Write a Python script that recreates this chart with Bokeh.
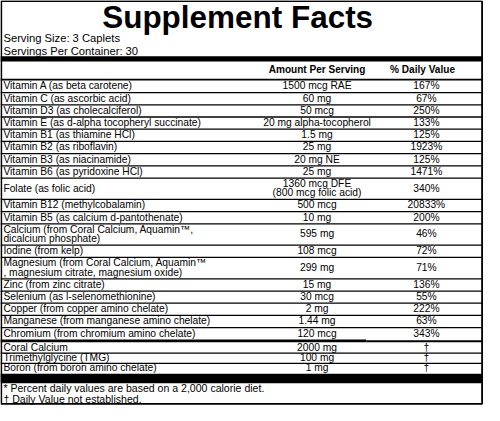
from bokeh.plotting import figure
from bokeh.models import Range1d, ColumnDataSource
from bokeh.core.properties import value
from bokeh.embed import file_html
from bokeh.resources import INLINE

# ---------------- data ----------------
title = "Supplement Facts"
serving_info = ["Serving Size: 3 Caplets", "Servings Per Container: 30"]
col_headers = ["Amount Per Serving", "% Daily Value"]

nutrients = [
    "Vitamin A (as beta carotene)",
    "Vitamin C (as ascorbic acid)",
    "Vitamin D3 (as cholecalciferol)",
    "Vitamin E (as d-alpha tocopheryl succinate)",
    "Vitamin B1 (as thiamine HCl)",
    "Vitamin B2 (as riboflavin)",
    "Vitamin B3 (as niacinamide)",
    "Vitamin B6 (as pyridoxine HCl)",
    "Folate (as folic acid)",
    "Vitamin B12 (methylcobalamin)",
    "Vitamin B5 (as calcium d-pantothenate)",
    "Calcium (from Coral Calcium, Aquamin\u2122,\ndicalcium phosphate)",
    "Iodine (from kelp)",
    "Magnesium (from Coral Calcium, Aquamin\u2122\n, magnesium citrate, magnesium oxide)",
    "Zinc (from zinc citrate)",
    "Selenium (as l-selenomethionine)",
    "Copper (from copper amino chelate)",
    "Manganese (from manganese amino chelate)",
    "Chromium (from chromium amino chelate)",
]
amounts = [
    "1500 mcg RAE", "60 mg", "50 mcg", "20 mg alpha-tocopherol", "1.5 mg",
    "25 mg", "20 mg NE", "25 mg", "1360 mcg DFE\n(800 mcg folic acid)",
    "500 mcg", "10 mg", "595 mg", "108 mcg", "299 mg", "15 mg", "30 mcg",
    "2 mg", "1.44 mg", "120 mcg",
]
daily_values = [
    "167%", "67%", "250%", "133%", "125%", "1923%", "125%", "1471%", "340%",
    "20833%", "200%", "46%", "72%", "71%", "136%", "55%", "222%", "63%", "343%",
]

others = ["Coral Calcium", "Trimethylglycine (TMG)", "Boron (from boron amino chelate)"]
other_amounts = ["2000 mg", "100 mg", "1 mg"]
other_dv = ["\u2020", "\u2020", "\u2020"]

footnotes = [
    "* Percent daily values are based on a 2,000 calorie diet.",
    "\u2020 Daily Value not established.",
]

# ---------------- layout ----------------
W, H = 500, 421
FW, FH = 484, 405
fs = FW / W
FONT = "Liberation Sans"

def px(v):
    return "%.2fpx" % (v * fs)

p = figure(width=FW, height=FH, output_backend="svg", toolbar_location=None,
           x_range=Range1d(0, W), y_range=Range1d(H, 0),
           x_axis_type=None, y_axis_type=None, min_border=0)
p.grid.visible = False
p.outline_line_color = None
p.background_fill_color = "white"
p.border_fill_color = "white"

LX, AX, DX, DHX = 3, 327, 440, 436
ROW1, ROW2, LINE_SP = 12.7, 22.2, 10.0
ROW_O = 10.7
DY = -0.6

# text collectors
tx, ty, tt, tf, tw, ta = [], [], [], [], [], []

def add_text(x, y, s, size, bold=False, align="left"):
    tx.append(x); ty.append(y); tt.append(s); tf.append(px(size))
    tw.append("bold" if bold else "normal"); ta.append(align)

def add_cell(x, yc, s, size, align):
    lines = s.split("\n")
    n = len(lines)
    for i, ln in enumerate(lines):
        add_text(x, yc + DY + (i - (n - 1) / 2) * LINE_SP, ln, size, align=align)

add_text(245, 17.5, title, 32.5, bold=True, align="center")
add_text(LX, 39, serving_info[0], 11.6)
add_text(LX, 52, serving_info[1], 11.6)
add_text(AX, 72, col_headers[0], 10.4, bold=True, align="center")
add_text(DHX, 72, col_headers[1], 10.4, bold=True, align="center")

# thick bars
bars_top = [58, 388]
bars_bot = [63.5, 398]
p.quad(left=0, right=W - 2, top=bars_top, bottom=bars_bot, fill_color="black", line_color=None)

# main rows
y = 83.0
sx0, sx1, sy, sw = [], [], [], []
sx0.append(0); sx1.append(W - 2); sy.append(82.2); sw.append(1.8)
for name, amt, dv in zip(nutrients, amounts, daily_values):
    n = max(name.count("\n"), amt.count("\n")) + 1
    h = ROW1 if n == 1 else ROW2
    yc = y + h / 2
    add_cell(LX, yc, name, 10.6, "left")
    add_cell(AX, yc, amt, 10.6, "center")
    add_cell(DX, yc, dv, 10.6, "center")
    y += h
    sx0.append(0); sx1.append(W - 2); sy.append(y); sw.append(1.3)
# heavier line under last main row
sy[-1] = y + 1.0; sw[-1] = 3.0
sx1[-1] = 378
sx0.append(378); sx1.append(W - 2); sy.append(y + 1.5); sw.append(2.0)

y = y + 3.0
for name, amt, dv in zip(others, other_amounts, other_dv):
    yc = y + ROW_O / 2
    add_cell(LX, yc, name, 10.6, "left")
    add_cell(AX, yc, amt, 10.6, "center")
    add_cell(DX, yc, dv, 10.6, "center")
    y += ROW_O
    if name != others[-1]:
        sx0.append(0); sx1.append(W - 2); sy.append(y); sw.append(1.3)

add_text(LX, 403, footnotes[0], 10.9)
add_text(LX, 414, footnotes[1], 10.9)

p.segment(x0=sx0, x1=sx1, y0=sy, y1=sy, line_color="black", line_width=[w * fs for w in sw])

# outer border
p.quad(left=0.8, right=W - 2.5, top=0.6, bottom=H - 1.6, fill_color=None,
       line_color="black", line_width=1.8)

src = ColumnDataSource(dict(x=tx, y=ty, text=tt, size=tf, weight=tw, align=ta))
p.text(x="x", y="y", text="text", source=src, text_font=value(FONT),
       text_font_size="size", text_font_style="weight", text_align="align",
       text_baseline="middle", text_color="black")

open("out.html", "w").write(file_html(p, INLINE))
